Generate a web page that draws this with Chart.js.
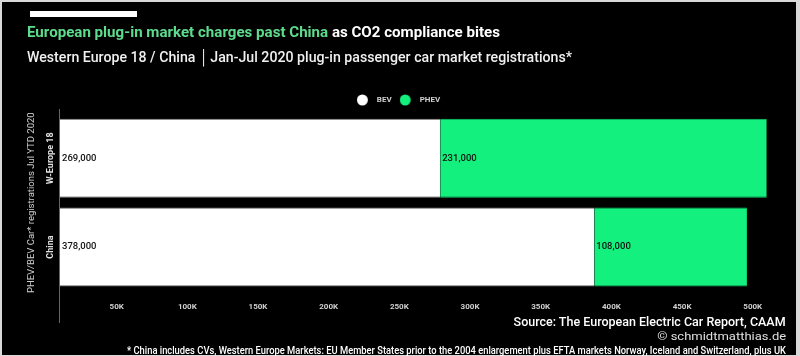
<!DOCTYPE html>
<html>
<head>
<meta charset="utf-8">
<script src="https://cdn.jsdelivr.net/npm/chart.js@4.4.1/dist/chart.umd.min.js"></script>
<style>
  html, body { margin: 0; padding: 0; background: #d9d9d9; }
  #wrap { position: relative; width: 800px; height: 356px; overflow: hidden; background: #d9d9d9; }
  #panel { position: absolute; left: 2px; top: 2px; width: 794px; height: 353px; background: #000; }
  canvas { position: absolute; left: 0; top: 0; }
  .txt { position: absolute; white-space: nowrap; font-family: Roboto, "Noto Sans", sans-serif; z-index: 2; }
  .fit { display: inline-block; }
  #topbar { position: absolute; left: 30px; top: 11px; width: 107px; height: 6px; background: #fff; z-index: 2; }
</style>
</head>
<body>
<div id="wrap">
  <div id="panel"></div>
  <div id="topbar"></div>
  <canvas id="c" width="800" height="356"></canvas>
  <div class="txt" style="left:27px; top:23px; line-height:18px; font-size:15.5px; font-weight:700; color:#fff;"><span class="fit" data-w="473" data-o="left"><span style="color:#5edc8e">European plug-in market charges past China</span> as CO2 compliance bites</span></div>
  <div class="txt" style="left:27px; top:49px; line-height:18px; font-size:14.5px; font-weight:500; color:#f0f0f0;"><span class="fit" data-w="545" data-o="left">Western Europe 18 / China <span style="margin:0 -2px 0 1px">│</span> Jan-Jul 2020 plug-in passenger car market registrations*</span></div>
  <div class="txt" style="right:14px; top:313px; line-height:16px; font-size:13.5px; font-weight:500; color:#fff; text-align:right;"><span class="fit" data-w="272" data-o="right">Source: The European Electric Car Report, CAAM</span></div>
  <div class="txt" style="right:14px; top:330px; line-height:14px; font-size:10.5px; font-weight:400; color:#e0e0e0; text-align:right;"><span class="fit" data-w="129" data-o="right">© schmidtmatthias.de</span></div>
  <div class="txt" style="right:14px; top:344px; line-height:13px; font-size:10.5px; font-weight:500; color:#fff; text-align:right;"><span class="fit" data-w="659" data-o="right">* China includes CVs, Western Europe Markets: EU Member States prior to the 2004 enlargement plus EFTA markets Norway, Iceland and Switzerland, plus UK</span></div>
</div>
<script>
// ---- data ----
const categories = ['W-Europe 18', 'China'];
const seriesNames = ['BEV', 'PHEV'];
const bevValues = [269000, 378000];
const phevValues = [231000, 108000];
const tickValues = [50000, 100000, 150000, 200000, 250000, 300000, 350000, 400000, 450000, 500000];
const axisTitle = 'PHEV/BEV Car* registrations Jul YTD 2020';
const seriesColors = ['#ffffff', '#14f07e'];

// fit text widths
function fitTexts() {
  document.querySelectorAll('.fit').forEach(el => {
    el.style.transform = 'none';
    const w = el.getBoundingClientRect().width;
    const target = parseFloat(el.dataset.w);
    el.style.transformOrigin = el.dataset.o + ' center';
    el.style.transform = 'scaleX(' + (target / w) + ')';
  });
}
fitTexts();
if (document.fonts && document.fonts.ready) document.fonts.ready.then(fitTexts);

// legend marker: filled circle on the left of a 16px wide swatch
function markerFor(color) {
  const c = document.createElement('canvas');
  c.width = 16; c.height = 12;
  const g = c.getContext('2d');
  g.fillStyle = color;
  g.beginPath();
  g.arc(5.5, 6, 5.5, 0, Math.PI * 2);
  g.fill();
  return c;
}
const markers = seriesColors.map(markerFor);

const axisLinePlugin = {
  id: 'axisLine',
  afterDraw(chart) {
    const ctx = chart.ctx, ca = chart.chartArea, xs = chart.scales.x;
    ctx.save();
    ctx.strokeStyle = '#666';
    ctx.lineWidth = 1;
    ctx.beginPath();
    ctx.moveTo(Math.round(ca.left) - 0.5, ca.top - 5);
    ctx.lineTo(Math.round(ca.left) - 0.5, xs.bottom);
    ctx.stroke();
    // category labels
    const ys = chart.scales.y;
    ctx.fillStyle = '#e0e0e0';
    ctx.font = 'bold 9px Roboto, sans-serif';
    ctx.textAlign = 'center';
    ctx.textBaseline = 'middle';
    categories.forEach((c, i) => {
      const y = ys.getPixelForValue(i);
      ctx.save();
      ctx.translate(ca.left - 9, y);
      ctx.rotate(-Math.PI / 2);
      ctx.fillText(c, 0, 0);
      ctx.restore();
    });
    // value labels
    ctx.font = '500 9.5px Roboto, sans-serif';
    ctx.textAlign = 'left';
    ctx.fillStyle = '#111';
    chart.data.datasets.forEach((ds, di) => {
      const meta = chart.getDatasetMeta(di);
      meta.data.forEach((bar, i) => {
        const start = Math.min(bar.base, bar.x);
        ctx.fillText(ds.data[i].toLocaleString('en-US'), start + 2, bar.y);
      });
    });
    ctx.restore();
  }
};

new Chart(document.getElementById('c'), {
  type: 'bar',
  data: {
    labels: categories,
    datasets: [
      { label: seriesNames[0], data: bevValues, backgroundColor: seriesColors[0], borderColor: '#8c8c8c',
        borderWidth: { top: 1, bottom: 1, left: 0, right: 0 }, borderSkipped: false,
        barPercentage: 0.891, categoryPercentage: 1 },
      { label: seriesNames[1], data: phevValues, backgroundColor: seriesColors[1], borderColor: '#0fcf6c',
        borderWidth: { top: 1, bottom: 1, left: 0, right: 0 }, borderSkipped: false,
        barPercentage: 0.891, categoryPercentage: 1 }
    ]
  },
  options: {
    indexAxis: 'y',
    responsive: false,
    animation: false,
    devicePixelRatio: 1,
    layout: { padding: { left: 2, right: 5, top: 88, bottom: 33 } },
    plugins: {
      legend: {
        display: true,
        position: 'top',
        labels: {
          usePointStyle: true,
          pointStyleWidth: 16,
          color: '#d0d0d0',
          padding: 8,
          font: { family: 'Roboto, sans-serif', size: 8, weight: 'bold' },
          generateLabels(chart) {
            const items = Chart.defaults.plugins.legend.labels.generateLabels(chart);
            items.forEach((it, i) => { it.pointStyle = markers[i]; });
            return items;
          }
        }
      },
      tooltip: { enabled: false }
    },
    scales: {
      x: {
        stacked: true,
        min: 0,
        max: 520000,
        grid: { display: false, drawTicks: false },
        border: { display: false },
        afterBuildTicks(scale) { scale.ticks = tickValues.map(v => ({ value: v })); },
        ticks: {
          padding: 11,
          labelOffset: -14,
          autoSkip: false,
          maxRotation: 0,
          color: '#d0d0d0',
          font: { family: 'Roboto, sans-serif', size: 8, weight: 'bold' },
          callback: v => (v / 1000) + 'K'
        }
      },
      y: {
        stacked: true,
        grid: { display: false, drawTicks: false },
        border: { display: false },
        ticks: { display: false },
        title: {
          display: true,
          text: axisTitle,
          color: '#d0d0d0',
          padding: { top: 24, bottom: 0 },
          font: { family: 'Roboto, sans-serif', size: 9.5, weight: 'normal' }
        },
        afterFit(scale) { scale.width = 58; }
      }
    }
  },
  plugins: [axisLinePlugin]
});
</script>
</body>
</html>
